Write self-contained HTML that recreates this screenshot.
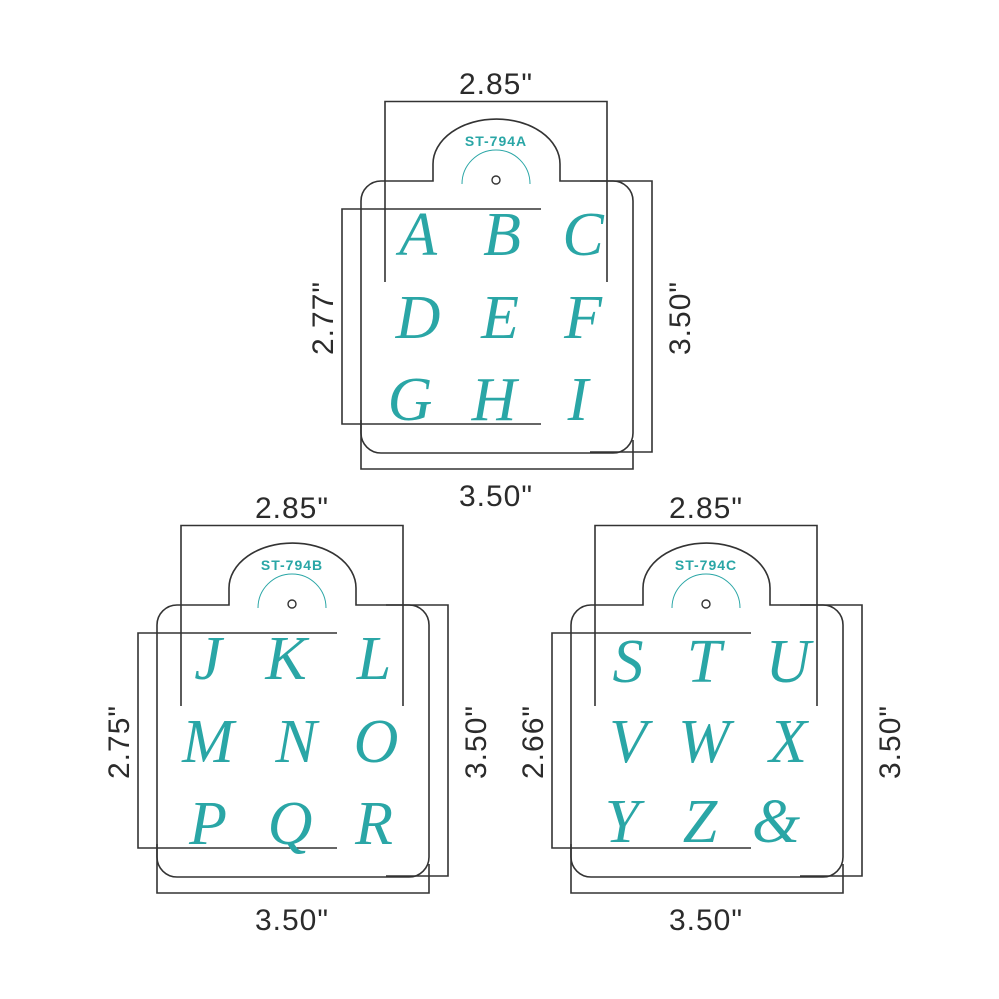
<!DOCTYPE html>
<html><head><style>
html,body{margin:0;padding:0;background:#fff;}
svg{display:block;}
.d{font-family:"Liberation Sans",sans-serif;font-size:30px;fill:#2b2b2b;letter-spacing:1px;}
.l{font-family:"Liberation Serif",serif;font-style:italic;font-size:62px;fill:#2aa6a6;}
.t{font-family:"Liberation Sans",sans-serif;font-weight:bold;font-size:14px;fill:#2aa6a6;letter-spacing:1px;}
</style></head><body>
<svg width="999" height="999" viewBox="0 0 999 999" xmlns="http://www.w3.org/2000/svg">
<defs>
<g id="st">
  <path d="M381,181 L433,181 L433,164 A63.5,45 0 0 1 560,164 L560,181 L613,181 A20,20 0 0 1 633,201 L633,433 A20,20 0 0 1 613,453 L381,453 A20,20 0 0 1 361,433 L361,201 A20,20 0 0 1 381,181 Z" fill="none" stroke="#333" stroke-width="1.6"/>
  <path d="M462,184 A34,34 0 0 1 530,184" fill="none" stroke="#2aa6a6" stroke-width="1"/>
  <circle cx="496" cy="180" r="4" fill="none" stroke="#333" stroke-width="1.4"/>
  <path d="M385,282 L385,101.5 L607,101.5 L607,282" fill="none" stroke="#333" stroke-width="1.6"/>
  <path d="M541,209 L342,209 L342,424 L541,424" fill="none" stroke="#333" stroke-width="1.6"/>
  <path d="M590,181 L652,181 L652,452 L590,452" fill="none" stroke="#333" stroke-width="1.6"/>
  <path d="M361,420 L361,469 L633,469 L633,440" fill="none" stroke="#333" stroke-width="1.6"/>
</g>
</defs>

<use href="#st"/>
<text class="d" x="496" y="94" text-anchor="middle">2.85"</text>
<text class="d" x="496" y="506" text-anchor="middle">3.50"</text>
<text class="d" transform="translate(333,318) rotate(-90)" text-anchor="middle">2.77"</text>
<text class="d" transform="translate(690,318) rotate(-90)" text-anchor="middle">3.50"</text>
<text class="t" x="496" y="146" text-anchor="middle">ST-794A</text>
<g class="l" text-anchor="middle">
<text x="418" y="255">A</text><text x="502" y="255">B</text><text x="583" y="255">C</text>
<text x="418" y="338">D</text><text x="500" y="338">E</text><text x="583" y="338">F</text>
<text x="410" y="420">G</text><text x="494" y="420">H</text><text x="578" y="420">I</text>
</g>

<g transform="translate(-204,424)">
<use href="#st"/>
<text class="d" x="496" y="94" text-anchor="middle">2.85"</text>
<text class="d" x="496" y="506" text-anchor="middle">3.50"</text>
<text class="d" transform="translate(333,318) rotate(-90)" text-anchor="middle">2.75"</text>
<text class="d" transform="translate(690,318) rotate(-90)" text-anchor="middle">3.50"</text>
<text class="t" x="496" y="146" text-anchor="middle">ST-794B</text>
<g class="l" text-anchor="middle">
<text x="412" y="255">J</text><text x="490" y="255">K</text><text x="578" y="255">L</text>
<text x="412" y="338">M</text><text x="500" y="338">N</text><text x="580" y="338">O</text>
<text x="412" y="420">P</text><text x="494" y="420">Q</text><text x="578" y="420">R</text>
</g>
</g>

<g transform="translate(210,424)">
<use href="#st"/>
<text class="d" x="496" y="94" text-anchor="middle">2.85"</text>
<text class="d" x="496" y="506" text-anchor="middle">3.50"</text>
<text class="d" transform="translate(333,318) rotate(-90)" text-anchor="middle">2.66"</text>
<text class="d" transform="translate(690,318) rotate(-90)" text-anchor="middle">3.50"</text>
<text class="t" x="496" y="146" text-anchor="middle">ST-794C</text>
<g class="l" text-anchor="middle">
<text x="418" y="258">S</text><text x="494" y="258">T</text><text x="578" y="258">U</text>
<text x="418" y="338">V</text><text x="494" y="338">W</text><text x="578" y="338">X</text>
<text x="412" y="418">Y</text><text x="490" y="418">Z</text><text x="566" y="418">&amp;</text>
</g>
</g>
</svg>
</body></html>
